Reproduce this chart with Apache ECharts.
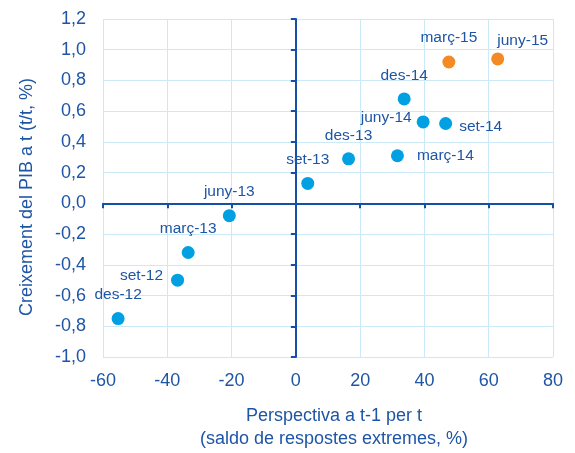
<!DOCTYPE html>
<html lang="ca">
<head>
    <meta charset="UTF-8">
    <title>PIB i perspectiva</title>
    <script src="https://cdn.jsdelivr.net/npm/echarts@6/dist/echarts.min.js"></script>
    <style type="text/css">
        html, body { margin: 0; padding: 0; background: #fff; }
        #chart { width: 575px; height: 453px; }
    </style>
</head>
<body>
<div id="chart"></div>
<script type="text/javascript">
// trimestres 2012-2014 (blau)
var names14 = ['des-12', 'set-12', 'març-13', 'juny-13', 'set-13', 'des-13', 'març-14', 'juny-14', 'set-14', 'des-14'];
var persp14 = [-55.3, -36.8, -33.5, -20.7, 3.7, 16.4, 31.6, 39.6, 46.6, 33.7];
var pib14 = [-0.75, -0.50, -0.32, -0.08, 0.13, 0.29, 0.31, 0.53, 0.52, 0.68];
// 2015 (taronja)
var names15 = ['març-15', 'juny-15'];
var persp15 = [47.6, 62.8];
var pib15 = [0.92, 0.94];

var txtColor = '#1E55A5';
var axisColor = '#1450A8';
var gridColor = '#CBE9F7';

// on va cada etiqueta
var labelPos = {
    'des-12':  {position: 'top', distance: 9},
    'set-12':  {position: 'left', distance: 8, offset: [0, -4]},
    'març-13': {position: 'top', distance: 9},
    'juny-13': {position: 'top', distance: 9},
    'set-13':  {position: 'top', distance: 9},
    'des-13':  {position: 'top', distance: 9},
    'març-14': {position: 'right', distance: 13},
    'juny-14': {position: 'left', distance: 5, offset: [0, -4]},
    'set-14':  {position: 'right', distance: 7, offset: [0, 3]},
    'des-14':  {position: 'top', distance: 9},
    'març-15': {position: 'top', distance: 10},
    'juny-15': {position: 'top', distance: 4, offset: [25, 0]}
};

function points(names, xs, ys) {
    return names.map(function (n, i) {
        return {name: n, value: [xs[i], ys[i]], label: labelPos[n]};
    });
}

var comma = function (v) { return v.toFixed(1).replace('.', ','); };

var chart = echarts.init(document.getElementById('chart'));
chart.setOption({
    animation: false,
    textStyle: {fontFamily: 'Liberation Sans, Arial, sans-serif'},
    grid: {left: 103, right: 22, top: 19, bottom: 96, outerBoundsMode: 'none', containLabel: false},
    xAxis: [{
        type: 'value', min: -60, max: 80, interval: 20,
        position: 'bottom',
        axisLine: {show: false, onZero: false},
        axisTick: {show: false},
        splitLine: {lineStyle: {color: gridColor, width: 1}},
        axisLabel: {color: txtColor, fontSize: 18, margin: 15},
        name: 'Perspectiva a t-1 per t\n(saldo de respostes extremes, %)',
        nameLocation: 'middle',
        nameGap: 48,
        nameTextStyle: {color: txtColor, fontSize: 18, lineHeight: 23, padding: [0, 0, 0, 12]}
    }, {
        type: 'value', min: -60, max: 80, interval: 20,
        position: 'bottom',
        axisLine: {onZero: true, onZeroAxisIndex: 0, lineStyle: {color: axisColor, width: 2}},
        axisTick: {show: true, length: 5, lineStyle: {color: axisColor, width: 2}},
        axisLabel: {show: false},
        splitLine: {show: false}
    }],
    yAxis: [{
        type: 'value', min: -1, max: 1.2, interval: 0.2,
        position: 'left',
        axisLine: {show: false, onZero: false},
        axisTick: {show: false},
        splitLine: {lineStyle: {color: gridColor, width: 1}},
        axisLabel: {color: txtColor, fontSize: 18, margin: 17, formatter: comma},
        name: 'Creixement del PIB a t (t/t, %)',
        nameLocation: 'middle',
        nameGap: 67,
        nameTextStyle: {color: txtColor, fontSize: 18, padding: [0, 18, 0, 0]}
    }, {
        type: 'value', min: -1, max: 1.2, interval: 0.2,
        position: 'left',
        axisLine: {onZero: true, onZeroAxisIndex: 0, lineStyle: {color: axisColor, width: 2}},
        axisTick: {show: true, length: 5, lineStyle: {color: axisColor, width: 2}},
        axisLabel: {show: false},
        splitLine: {show: false}
    }],
    series: [{
        type: 'scatter',
        xAxisIndex: 0, yAxisIndex: 0,
        symbolSize: 13,
        itemStyle: {color: '#00A0E3', opacity: 1},
        label: {show: true, formatter: '{b}', color: txtColor, fontSize: 15.5},
        data: points(names14, persp14, pib14)
    }, {
        type: 'scatter',
        xAxisIndex: 0, yAxisIndex: 0,
        symbolSize: 13,
        itemStyle: {color: '#F38A23', opacity: 1},
        label: {show: true, formatter: '{b}', color: txtColor, fontSize: 15.5},
        data: points(names15, persp15, pib15)
    }]
});
</script>
</body>
</html>
